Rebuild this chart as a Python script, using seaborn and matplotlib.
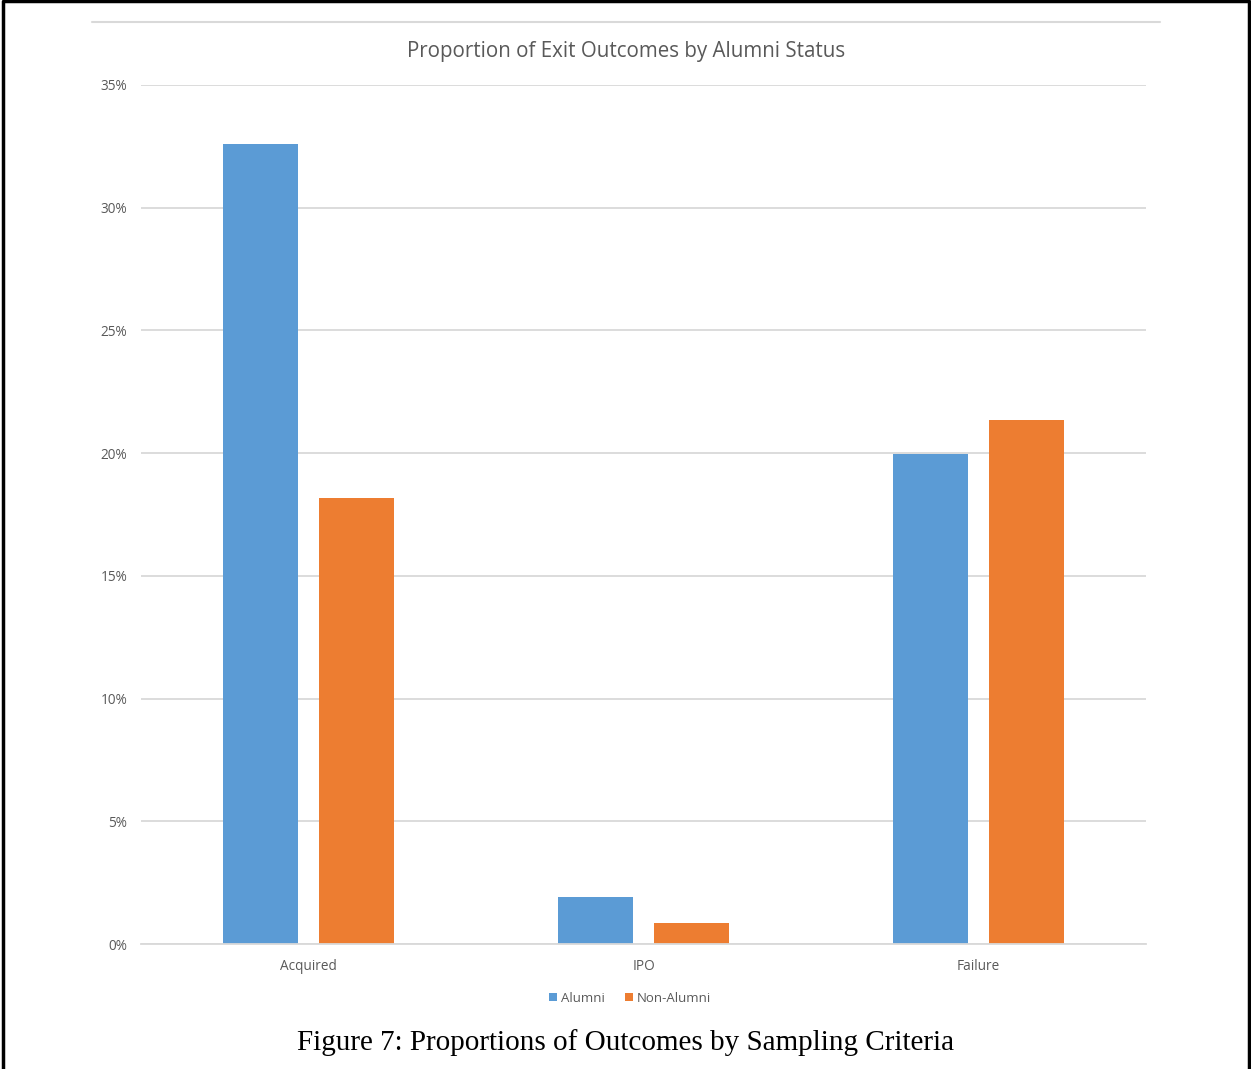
import matplotlib
matplotlib.use("Agg")
import matplotlib.pyplot as plt
from matplotlib.lines import Line2D
from matplotlib.patches import Patch
from matplotlib.ticker import FuncFormatter
import pandas as pd
import seaborn as sns

# Exit outcome shares (percent) for each group
outcomes = ["Acquired", "IPO", "Failure"]
alumni = [32.6, 1.92, 19.97]
non_alumni = [18.17, 0.86, 21.35]
groups = ["Alumni", "Non-Alumni"]
colors = ["#5B9BD5", "#ED7D31"]

df = pd.DataFrame({
    "Outcome": outcomes * 2,
    "Group": [groups[0]] * 3 + [groups[1]] * 3,
    "Share": alumni + non_alumni,
})

sns.set_theme(style="white")
plt.rcParams["font.family"] = ["Open Sans", "DejaVu Sans"]

W, H = 1251, 1069
fig = plt.figure(figsize=(W / 100, H / 100), dpi=100)
ax = fig.add_axes([141 / W, (H - 944) / H, (1146 - 141) / W, (944 - 85) / H])

sns.barplot(data=df, x="Outcome", y="Share", hue="Group", order=outcomes,
            hue_order=groups, palette=colors, width=0.57, gap=0.214,
            saturation=1, legend=False, ax=ax, linewidth=0)

ax.set_xlim(-0.5, 2.5)
ax.set_ylim(0, 35)
ax.set_yticks([0, 5, 10, 15, 20, 25, 30, 35])
ax.yaxis.set_major_formatter(FuncFormatter(lambda v, _: f"{v:.0f}%"))
ax.grid(axis="y", color="#D9D9D9", linewidth=1.3)
ax.set_axisbelow(True)
for s in ["top", "right", "left"]:
    ax.spines[s].set_visible(False)
ax.spines["bottom"].set_color("#D9D9D9")
ax.spines["bottom"].set_linewidth(1.3)
ax.tick_params(axis="both", length=0, labelsize=9.8, labelcolor="#595959")
ax.tick_params(axis="y", pad=10)
ax.tick_params(axis="x", pad=10.5)
ax.set_xlabel("")
ax.set_ylabel("")

fig.text(626 / W, 1 - 51 / H, "Proportion of Exit Outcomes by Alumni Status",
         ha="center", va="center", fontsize=14.8, color="#595959")

handles = [Patch(facecolor=c, edgecolor="none") for c in colors]
fig.legend(handles, groups, loc="center", bbox_to_anchor=(630 / W, 1 - 998 / H),
           ncol=2, frameon=False, fontsize=9.5, labelcolor="#595959",
           handlelength=0.6, handleheight=0.6, handletextpad=0.3, columnspacing=1.5)

fig.text(626 / W, 1 - 1043 / H, "Figure 7: Proportions of Outcomes by Sampling Criteria",
         ha="center", va="center", fontsize=21, color="black",
         family=["Liberation Serif", "DejaVu Serif"])

# Separator rule above the chart title
fig.add_artist(Line2D([92 / W, 1160 / W], [1 - 22 / H, 1 - 22 / H],
                      transform=fig.transFigure, color="#D9D9D9", linewidth=1.5))
# Page frame on left, top and right
fig.add_artist(Line2D([3 / W, 3 / W, 1249 / W, 1249 / W], [0, 1 - 1 / H, 1 - 1 / H, 0],
                      transform=fig.transFigure, color="black", linewidth=2.5))

fig.savefig("out.png", dpi=100)
